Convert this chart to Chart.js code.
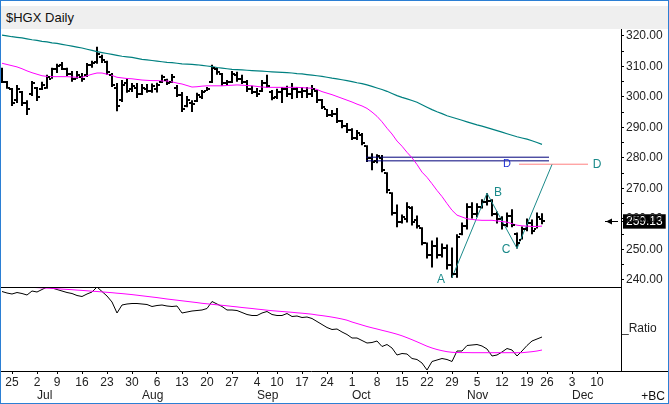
<!DOCTYPE html>
<html>
<head>
<meta charset="utf-8">
<title>$HGX Daily</title>
<script src="https://cdn.jsdelivr.net/npm/chart.js@4.4.1/dist/chart.umd.min.js"></script>
<style>
  html, body { margin: 0; padding: 0; background: #fff; }
  #frame { position: relative; width: 669px; height: 404px; box-sizing: border-box; border: 1px solid #2b7fd4; background: #fff; overflow: hidden; font-family: "Liberation Sans", Arial, sans-serif; }
  #head { position: absolute; left: 0; top: 5px; width: 667px; height: 23px; box-sizing: border-box; padding-left: 5px; background: #efefef; color: #111; font-size: 13px; line-height: 23px; }
  #wrap { position: absolute; left: 0; top: 28px; width: 667px; height: 374px; }
  #bc { position: absolute; right: 3px; top: 388px; font-size: 12px; line-height: 14px; color: #111; }
</style>
</head>
<body>
<div id="frame">
  <div id="head">$HGX Daily</div>
  <div id="wrap"><canvas id="chart" width="667" height="374"></canvas></div>
  <div id="bc">+BC</div>
</div>
<script>
// Daily bars, Jun 21 .. Nov 23 (one entry per trading day)
const highs = [309.5,305.2,302.9,303.9,301.9,298.9,305.2,303.2,304.9,307.2,
  309.5,310.8,311.4,309.5,308.5,308.5,307.8,311.1,311.8,316.4,
  313.8,311.8,307.8,304.5,305.5,306.2,304.5,304.5,304.2,304.2,
  304.4,304.6,307.2,305.9,307.5,303.9,301.6,300.3,298.9,301.3,
  302.2,303.2,310.5,309.5,307.8,305.5,308.5,308.2,307.2,305.5,
  303.6,302.9,305.5,307.2,302.2,302.6,303.2,303.6,304.5,303.2,
  303.2,303.2,303.9,302.2,299.3,296.0,295.7,296.3,292.4,291.4,
  289.7,289.1,288.1,284.1,281.5,281.2,280.9,275.3,268.7,264.7,
  261.4,265.4,264.1,261.1,257.2,252.2,252.9,253.9,251.9,251.6,
  250.6,254.9,258.8,265.1,265.4,265.1,266.4,268.4,266.4,262.4,
  260.8,262.1,263.1,255.5,257.5,260.1,259.8,262.1,261.8];
const lows = [304.5,302.6,297.0,298.0,297.0,294.0,300.3,298.6,302.2,302.6,
  305.9,307.8,308.8,306.8,304.9,305.9,304.9,306.5,309.5,310.8,
  311.1,307.2,303.2,295.3,298.3,301.3,301.6,299.6,300.6,301.3,
  301.3,301.4,304.5,303.9,304.5,299.9,295.0,296.6,295.0,298.3,
  299.3,301.9,304.5,307.2,303.6,303.9,304.5,304.9,304.2,301.6,
  300.9,299.9,301.6,302.9,298.9,299.3,298.0,299.9,299.3,299.6,
  299.6,299.6,299.9,298.0,296.0,293.4,293.4,291.4,289.7,288.1,
  285.8,285.8,284.1,278.6,275.9,278.2,275.3,268.4,261.1,257.2,
  258.5,258.8,257.8,256.8,251.3,247.0,244.0,247.0,247.3,243.4,
  240.7,240.7,254.6,256.5,260.1,260.5,263.4,264.4,260.8,258.5,
  256.5,257.2,257.2,250.3,253.2,255.9,254.9,256.8,258.2];
const opens = [308,305,302.5,299,301.5,298,301,303,302.5,303,
  306,309,310.5,309,307.5,306,306.5,307,310.5,311.5,
  313,311.5,307,303,299,304.5,302.5,303,301,302.5,
  302,302.5,305,305.5,305,303,300.5,297,298,298.5,
  300,302,305,309,307.5,304.5,305,307,306,305,
  302.5,301.5,302,304.5,301.5,300,301.5,302.5,301,302.5,
  301.5,302,301,302,299,296,294,294.5,292,290.5,
  289,286.5,287.5,284,280,279,280,275,268.5,262,
  259,260,263.5,259.5,257,252,248,251,248,250.5,
  245,242,255,257.5,264,261.5,264,265.5,266,261.5,
  260,258,261,255,253,256.5,258.5,256.5,260];
const closes = [305,303,298,302.5,298,296,304.5,300,304,306.5,
  309,310,309,307.5,306,307,306,310.5,311,314,
  312,308,304,297,304,302,303.5,301,303,302,
  303.5,304,306.5,304.5,306.5,300.5,296,299,297.5,300.5,
  301.5,302.5,309.5,308,304.5,305,307.5,306,305,302.5,
  301.5,301,304.5,303.5,299.5,301.5,302.5,301,302.5,301.5,
  302,301,302.5,299,296.5,294,294.5,292,290.5,289,
  286.5,288,285,280,278.5,280.5,276,269.5,262,259,
  260.5,264,259,257.5,252,248,251,248,250.5,245,
  242,254,257.5,264,261.5,264,265.5,266,261.5,260,
  258,261,258,252,256.5,258.5,256,260.5,259.13];

// moving averages on price
const slowMA = [320.2,320.0,319.7,319.5,319.3,319.0,318.7,318.5,318.2,318.0,
  317.7,317.5,317.2,316.9,316.6,316.3,316.0,315.6,315.2,314.8,
  314.5,314.2,313.9,313.6,313.3,313.1,312.9,312.6,312.3,312.1,
  311.9,311.7,311.5,311.3,311.2,311.0,310.8,310.7,310.6,310.5,
  310.3,310.1,309.9,309.6,309.4,309.2,309.0,308.9,308.8,308.7,
  308.6,308.5,308.4,308.3,308.2,308.1,308.0,307.9,307.8,307.6,
  307.5,307.3,307.1,306.9,306.7,306.4,306.1,305.9,305.6,305.3,
  305.0,304.6,304.3,303.9,303.4,302.9,302.4,301.8,301.1,300.4,
  299.8,299.3,298.8,298.2,297.4,296.6,295.8,295.1,294.5,293.8,
  293.3,292.8,292.3,291.8,291.3,290.8,290.4,289.9,289.4,288.9,
  288.4,287.9,287.4,286.9,286.5,286.1,285.6,285.0,284.4];
const fastMA = [311.0,310.6,310.2,309.8,309.2,308.5,307.9,307.4,306.9,306.7,
  306.6,306.6,306.6,306.6,306.5,306.4,306.4,306.9,307.4,307.8,
  307.8,307.4,307.0,306.4,306.2,306.0,305.9,305.7,305.5,305.4,
  305.3,305.3,305.2,305.2,304.9,304.5,304.2,303.7,303.2,303.3,
  303.5,303.6,303.6,303.6,303.6,303.7,303.8,303.9,303.8,303.7,
  303.6,303.4,303.2,303.1,303.1,303.1,303.1,303.1,303.1,303.1,
  303.0,302.9,302.8,302.4,301.7,301.2,300.7,300.1,299.5,298.9,
  298.3,297.6,297.0,296.2,295.0,293.6,291.8,289.7,287.8,285.5,
  283.8,281.8,280.0,277.8,275.3,273.6,271.5,269.3,267.3,265.0,
  262.8,261.2,260.6,260.0,259.8,259.6,259.5,259.5,259.5,259.3,
  259.1,258.9,258.4,257.9,257.7,257.6,257.5,257.5,257.6];

// relative strength panel (height units inside the lower pane)
const ratioLine = [79.5,78,77,78.5,77.5,76,80,79,81.5,84,
  83,81.5,80,78.5,77.5,75.5,74.5,77,79,84,
  79.5,75,69,58,66,67,67.5,67.5,67,66.5,
  64.5,65.5,66,65,64.5,65,58,59,60,60.5,
  61,62.5,69.5,67,64.5,61,61,60.5,58.5,56.5,
  55.5,55.5,58,59.5,56.5,55.5,55.5,57.5,54.5,55,
  53.5,54,52.5,49.5,46.5,43.5,41.5,42,39,36.5,
  33,33,30.5,28,28.5,30,24.5,26.5,23,16,
  17.5,17,12.5,11.5,8,1,9.5,11,12.5,11.5,
  9.5,20,20,25.5,26,26.5,25,22,15,16,
  19,22.5,21,15,20,25.5,30,32,34];
const ratioMA = [null,null,null,null,84,83.8,83.6,83.4,83.1,82.9,
  82.6,82.3,81.9,81.6,81.3,80.9,80.6,80.2,79.8,79.5,
  79.1,78.7,78.3,77.8,77.4,76.9,76.4,75.8,75.2,74.6,
  74.0,73.4,72.7,72.0,71.4,70.8,70.2,69.6,69.0,68.4,
  67.7,67.2,66.7,66.2,65.7,65.2,64.6,64.1,63.5,63.0,
  62.5,61.9,61.4,60.8,60.3,59.9,59.5,59.1,58.7,58.2,
  57.8,57.3,56.8,56.0,55.4,54.7,53.9,53.0,52.0,50.8,
  49.0,47.5,46.0,44.5,43.2,42.0,40.7,39.5,38.2,36.8,
  35.2,33.3,31.3,29.2,27.0,24.8,23.0,21.5,20.3,19.3,
  18.7,18.5,18.4,18.4,18.3,18.3,18.3,18.3,18.3,18.3,
  18.3,18.3,18.3,18.3,18.3,18.8,19.3,20.0,21.0];

// ABCD pattern and its levels (x in trading-day index)
const patternNames = ['A', 'B', 'C', 'D'];
const patternIdx = [90, 97, 103, 110];
const patternPrice = [240.7, 268.4, 250.3, 277.8];
const retraceLevels = [280.2, 279.0];
const retraceSpan = [72.8, 109.4];
const targetLevel = 277.9;
const targetSpan = [103.4, 117.2];

// axis ticks
const dayTickIdx = [2, 7, 11, 16, 21, 26, 31, 36, 41, 46, 51, 55, 60, 65, 70, 75, 80, 85, 90, 95, 100, 105, 109, 114, 119];
const dayTickLabels = ['25', '2', '9', '16', '23', '30', '6', '13', '20', '27', '4', '10', '17', '24', '1', '8', '15', '22', '29', '5', '12', '19', '26', '3', '10'];
const monthStartIdx = [7, 28, 51, 70, 93, 114];
const monthLabels = ['Jul', 'Aug', 'Sep', 'Oct', 'Nov', 'Dec'];
const lastPrice = 259.13;
const priceTicks = [240, 245, 250, 255, lastPrice, 260, 265, 270, 275, 280, 285, 290, 295, 300, 305, 310, 315, 320];

const FONT = '"Liberation Sans", Arial, sans-serif';
const TEAL = '#008080';
const PATTERN = '#1b8a8a';
Chart.defaults.font.family = FONT;

const pts = (arr) => arr.map((v, i) => ({ x: i, y: v }));

// open/close ticks, pane rules, pattern labels, last-price arrow
const markup = {
  id: 'markup',
  afterDatasetsDraw(chart) {
    const { ctx, chartArea: area } = chart;
    const { x, y, y2 } = chart.scales;
    ctx.save();

    ctx.fillStyle = '#000';
    chart.getDatasetMeta(0).data.forEach((bar, i) => {
      const cx = Math.round(bar.x);
      ctx.fillRect(cx - 3, Math.round(y.getPixelForValue(opens[i])) - 1, 2, 2);
      ctx.fillRect(cx + 1, Math.round(y.getPixelForValue(closes[i])) - 1, 2, 2);
    });

    ctx.fillRect(0, Math.round(y2.top), area.right, 1);
    ctx.fillRect(area.right, Math.round(area.bottom), chart.width - area.right, 1);

    ctx.font = '12px ' + FONT;
    ctx.textAlign = 'center';
    ctx.textBaseline = 'middle';
    ctx.fillStyle = PATTERN;
    const off = { A: [-11, 2], B: [11, 0], C: [-11, 1] };
    patternNames.forEach((n, i) => {
      if (!off[n]) return;
      ctx.fillText(n, x.getPixelForValue(patternIdx[i]) + off[n][0], y.getPixelForValue(patternPrice[i]) + off[n][1]);
    });
    const ty = y.getPixelForValue(targetLevel);
    ctx.fillText('D', x.getPixelForValue(targetSpan[1]) + 9, ty);
    ctx.font = '11px ' + FONT;
    ctx.fillStyle = '#2030d0';
    ctx.fillText('D', x.getPixelForValue(targetSpan[0]) - 12, ty);

    // arrow pointing at last close
    const ay = Math.round(y.getPixelForValue(lastPrice)) + 0.5;
    const r = area.right;
    ctx.strokeStyle = '#000';
    ctx.lineWidth = 1;
    ctx.beginPath();
    ctx.moveTo(r - 16, ay);
    ctx.lineTo(r - 3, ay);
    ctx.stroke();
    ctx.fillStyle = '#000';
    ctx.beginPath();
    ctx.moveTo(r - 15, ay);
    ctx.lineTo(r - 9, ay - 3);
    ctx.lineTo(r - 9, ay + 3);
    ctx.closePath();
    ctx.fill();
    ctx.restore();
  }
};

const lineSet = (data, color, yAxisID, extra) => Object.assign({
  type: 'line', data, borderColor: color, borderWidth: 1, pointRadius: 0,
  tension: 0, xAxisID: 'x', yAxisID, order: 1, spanGaps: false
}, extra || {});

new Chart(document.getElementById('chart'), {
  type: 'bar',
  data: {
    datasets: [
      {
        type: 'bar',
        data: highs.map((h, i) => ({ x: i, y: [lows[i], h] })),
        backgroundColor: '#000',
        barThickness: 2,
        inflateAmount: 0,
        xAxisID: 'x', yAxisID: 'y',
        order: 10
      },
      lineSet(pts(slowMA), TEAL, 'y', { borderWidth: 1.2 }),
      lineSet(pts(fastMA), '#ff00ff', 'y'),
      lineSet(patternIdx.map((v, i) => ({ x: v, y: patternPrice[i] })), PATTERN, 'y'),
      lineSet(retraceSpan.map(v => ({ x: v, y: retraceLevels[0] })), '#00007a', 'y'),
      lineSet(retraceSpan.map(v => ({ x: v, y: retraceLevels[1] })), '#00007a', 'y'),
      lineSet(targetSpan.map(v => ({ x: v, y: targetLevel })), '#ff8080', 'y'),
      lineSet(pts(ratioMA), '#ff00ff', 'y2'),
      lineSet(pts(ratioLine), '#000', 'y2')
    ]
  },
  options: {
    responsive: false,
    animation: false,
    events: [],
    layout: { padding: 0 },
    plugins: { legend: { display: false }, tooltip: { enabled: false }, title: { display: false } },
    scales: {
      x: {
        type: 'linear', position: 'bottom', min: -0.2, max: 123.8, offset: false,
        grid: { offset: false, drawOnChartArea: false, drawTicks: true, tickLength: 3, tickColor: '#000' },
        border: { display: true, color: '#000' },
        afterBuildTicks: (s) => { s.ticks = dayTickIdx.map(v => ({ value: v })); },
        ticks: { autoSkip: false, maxRotation: 0, padding: 1, color: '#222', font: { size: 12 }, callback: (v, i) => dayTickLabels[i] },
        afterFit: (s) => { s.height = 17; s.paddingLeft = 0; s.paddingRight = 0; }
      },
      x2: {
        type: 'linear', position: 'bottom', min: -0.2, max: 123.8, offset: false,
        grid: { display: false, drawTicks: false, offset: false },
        border: { display: false },
        afterBuildTicks: (s) => { s.ticks = monthStartIdx.map(v => ({ value: v })); },
        ticks: { autoSkip: false, maxRotation: 0, align: 'start', padding: 0, color: '#222', font: { size: 12 }, callback: (v, i) => monthLabels[i] },
        afterFit: (s) => { s.height = 15; s.paddingLeft = 0; s.paddingRight = 0; }
      },
      y: {
        type: 'linear', position: 'right', stack: 'panes', stackWeight: 258,
        min: 237.64, max: 322.23,
        grid: { drawOnChartArea: false, drawTicks: true, tickLength: 3, tickColor: '#000' },
        border: { display: true, color: '#000' },
        afterBuildTicks: (s) => { s.ticks = priceTicks.map(v => ({ value: v })); },
        ticks: {
          autoSkip: false, padding: 2, font: { size: 12 },
          color: (c) => c.tick && c.tick.value === lastPrice ? '#fff' : '#222',
          showLabelBackdrop: (c) => !!(c.tick && c.tick.value === lastPrice),
          backdropColor: '#000',
          backdropPadding: { left: 3, right: 3, top: 0, bottom: 0 },
          callback: (v) => (v % 10 === 0 || v === lastPrice) ? v.toFixed(2) : ''
        },
        afterFit: (s) => { s.width = 47; s.paddingTop = 0; s.paddingBottom = 0; }
      },
      y2: {
        type: 'linear', position: 'right', stack: 'panes', stackWeight: 84,
        min: 0, max: 84,
        grid: { drawOnChartArea: false, drawTicks: false },
        border: { display: true, color: '#000' },
        afterBuildTicks: (s) => { s.ticks = [{ value: 42 }]; },
        ticks: { padding: 1, color: '#222', font: { size: 12 }, callback: () => '_Ratio' },
        afterFit: (s) => { s.width = 47; s.paddingTop = 0; s.paddingBottom = 0; }
      }
    }
  },
  plugins: [markup]
});
</script>
</body>
</html>
